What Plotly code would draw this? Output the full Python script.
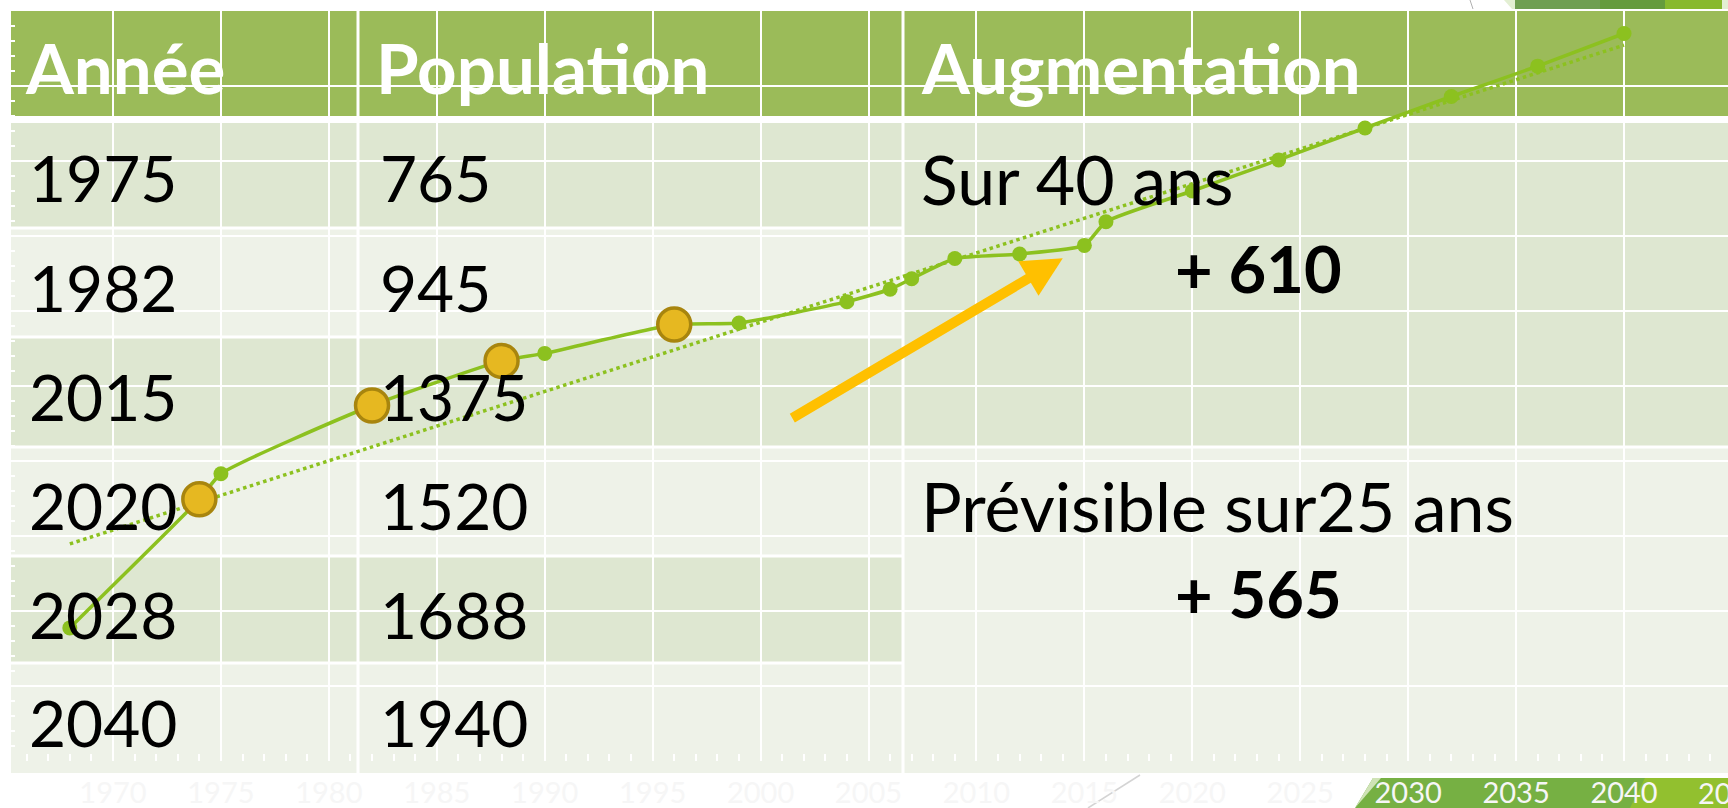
import plotly.graph_objects as go

# ---------------- data ----------------
years = [1968, 1974, 1975, 1982, 1988, 1990, 1996, 1999, 2004, 2006, 2007,
         2009, 2012, 2015, 2016, 2020, 2024, 2028, 2032, 2036, 2040]
population = [355, 698, 766, 948, 1067, 1087, 1164, 1168, 1225, 1258, 1286,
              1340, 1352, 1375, 1438, 1520, 1603, 1688, 1772, 1853, 1940]

gold_years = [1974, 1982, 1988, 1996]
gold_population = [698, 948, 1067, 1164]

trend_years = [1968, 2040]
trend_population = [579, 1909]

arrow_tail = (2001.4, 912)
arrow_tip = (2014.0, 1341)

headers = ["Année", "Population", "Augmentation"]
table_years = ["1975", "1982", "2015", "2020", "2028", "2040"]
table_population = ["765", "945", "1375", "1520", "1688", "1940"]
aug_labels = ["Sur 40 ans", "Prévisible sur25 ans"]
aug_values = ["+ 610", "+ 565"]

x_ticks = [1970, 1975, 1980, 1985, 1990, 1995, 2000, 2005, 2010, 2015,
           2020, 2025, 2030, 2035, 2040]

# ---------------- geometry (pixels) ----------------
W, H = 1728, 808
L, R, T, B = 10, 1728, 11, 761
PX_PER_YEAR = 21.586


def xp(px):
    return (px - L) / (R - L)


def yp(py):
    return (B - py) / (B - T)


HEADER = "#9bbb59"
DARK = "#dee7d1"
LIGHT = "#eef2e8"
FONT = "Lato"

shapes = []


def rect(x0, y0, x1, y1, color, layer="below"):
    shapes.append(dict(type="rect", xref="paper", yref="paper",
                       x0=xp(x0), x1=xp(x1), y0=yp(y1), y1=yp(y0),
                       fillcolor=color, line=dict(width=0), layer=layer))


# header
rect(11, 11, 1728, 116, HEADER)
# rows in columns 1-2
row_edges = [123, 228, 337, 447, 556, 663, 773]
for i in range(6):
    rect(11, row_edges[i], 903, row_edges[i + 1], DARK if i % 2 == 0 else LIGHT)
# merged cells in column 3
rect(903, 123, 1728, 447, DARK)
rect(903, 447, 1728, 773, LIGHT)
# white borders
for yb in row_edges[1:-1]:
    rect(11, yb - 1.5, 903, yb + 1.5, "white")
rect(903, 445.5, 1728, 448.5, "white")
for xb in [358, 903]:
    rect(xb - 1.5, 11, xb + 1.5, 773, "white")

# decorative banner bottom right
shapes.append(dict(type="path", xref="paper", yref="paper",
                   path="M {a},{b} L {c},{d} L {e},{d} L {e},{b} Z".format(
                       a=xp(1355), b=yp(808), c=xp(1373), d=yp(778), e=xp(1728)),
                   fillcolor="#76b043", line=dict(width=0), layer="below"))
shapes.append(dict(type="path", xref="paper", yref="paper",
                   path="M {a},{b} L {c},{d} L {e},{d} L {e},{b} Z".format(
                       a=xp(1630), b=yp(808), c=xp(1645), d=yp(778), e=xp(1728)),
                   fillcolor="#92c02f", line=dict(width=0), layer="below"))
shapes.append(dict(type="path", xref="paper", yref="paper",
                   path="M {a},{b} L {c},{d} L {e},{d} Z".format(
                       a=xp(1355), b=yp(808), c=xp(1373), d=yp(778), e=xp(1381)),
                   fillcolor="#cfe3b6", line=dict(width=0), layer="below"))
# faint grey diagonal bottom
shapes.append(dict(type="line", xref="paper", yref="paper",
                   x0=xp(1088), y0=yp(808), x1=xp(1140), y1=yp(775),
                   line=dict(color="#d4d4d4", width=1.5), layer="below"))
# top right decoration
shapes.append(dict(type="line", xref="paper", yref="paper",
                   x0=xp(1470), y0=yp(0), x1=xp(1473), y1=yp(9),
                   line=dict(color="#b0b0b0", width=1), layer="below"))
shapes.append(dict(type="path", xref="paper", yref="paper",
                   path="M {a},{t} L {b},{t} L {b},{u} L {c},{u} Z".format(
                       a=xp(1504), b=xp(1728), c=xp(1512), t=yp(0), u=yp(9)),
                   fillcolor="#e3efd3", line=dict(width=0), layer="below"))
shapes.append(dict(type="rect", xref="paper", yref="paper",
                   x0=xp(1515), x1=xp(1600), y0=yp(9), y1=yp(0),
                   fillcolor="#6f9f52", line=dict(width=0), layer="below"))
shapes.append(dict(type="rect", xref="paper", yref="paper",
                   x0=xp(1600), x1=xp(1665), y0=yp(9), y1=yp(0),
                   fillcolor="#659b3d", line=dict(width=0), layer="below"))
shapes.append(dict(type="rect", xref="paper", yref="paper",
                   x0=xp(1665), x1=xp(1722), y0=yp(9), y1=yp(0),
                   fillcolor="#88b92e", line=dict(width=0), layer="below"))

# ---------------- traces ----------------
fig = go.Figure()
fig.add_trace(go.Scatter(x=trend_years, y=trend_population, mode="lines",
                         line=dict(color="#8cc11f", width=3.5, dash="dot"),
                         hoverinfo="skip", showlegend=False))
fig.add_trace(go.Scatter(x=years, y=population, mode="lines+markers",
                         line=dict(color="#8cc11f", width=3.5, shape="spline", smoothing=0.5),
                         marker=dict(color="#8cc11f", size=15),
                         showlegend=False))
fig.add_trace(go.Scatter(x=gold_years, y=gold_population, mode="markers",
                         marker=dict(color="#e6b821", size=33,
                                     line=dict(color="#a8850e", width=3.5)),
                         showlegend=False))

# ---------------- annotations ----------------
ann = []


def text(px, py, s, size, color="black", bold=False):
    ann.append(dict(xref="paper", yref="paper", x=xp(px), y=yp(py),
                    xanchor="left", yanchor="middle", showarrow=False,
                    text="<b>" + s + "</b>" if bold else s,
                    font=dict(family=FONT, size=size, color=color)))


col_x = [23, 374, 919]
for i, h in enumerate(headers):
    text(col_x[i], 67, h, 69, "white", True)

row_y = [177, 288, 397, 506, 614, 722]
for i in range(6):
    text(27, row_y[i], table_years[i], 64)
    text(378, row_y[i], table_population[i], 64)

text(919, 179, aug_labels[0], 68)
text(1173, 268, aug_values[0], 65, bold=True)
text(919, 506, aug_labels[1], 68)
text(1173, 593, aug_values[1], 65, bold=True)

# arrow
ann.append(dict(x=arrow_tip[0], y=arrow_tip[1], ax=arrow_tail[0], ay=arrow_tail[1],
                xref="x", yref="y", axref="x", ayref="y", text="",
                showarrow=True, arrowhead=2, arrowsize=0.8, arrowwidth=10,
                arrowcolor="#ffc000", standoff=0))

# cut-off 2045 tick label at the right edge
x_2045_px = 113 + (2045 - 1970) * PX_PER_YEAR
ann.append(dict(xref="paper", yref="paper", x=xp(x_2045_px), y=0,
                xanchor="center", yanchor="top",
                yshift=-12, showarrow=False, text="2045",
                font=dict(family=FONT, size=29, color="#f6f6f6")))

fig.update_layout(
    width=W, height=H,
    margin=dict(l=L, r=W - R, t=T, b=H - B, pad=0),
    paper_bgcolor="white",
    plot_bgcolor="rgba(0,0,0,0)",
    shapes=shapes,
    annotations=ann,
    showlegend=False,
    xaxis=dict(range=[1970 - (113 - L) / PX_PER_YEAR, 1970 + (R - 113) / PX_PER_YEAR],
               tickvals=x_ticks, ticktext=[str(v) for v in x_ticks],
               showgrid=True, gridcolor="white", gridwidth=2,
               zeroline=False, showline=False,
               ticks="", tickfont=dict(family=FONT, size=29, color="#f6f6f6"),
               ticklabelstandoff=12,
               minor=dict(dtick=1, tick0=1970, ticks="inside", ticklen=7,
                          tickcolor="white", tickwidth=1.5, showgrid=False)),
    yaxis=dict(range=[0, 2000], dtick=200, showgrid=True, gridcolor="white",
               gridwidth=2, zeroline=False, showline=False,
               showticklabels=False, ticks="",
               minor=dict(dtick=40, ticks="inside", ticklen=5,
                          tickcolor="white", tickwidth=1.5, showgrid=False)),
)

fig.write_html("out.html",
               config={"displayModeBar": False},
               post_script="document.body.style.margin='0';"
                           "document.body.style.overflow='hidden';")
